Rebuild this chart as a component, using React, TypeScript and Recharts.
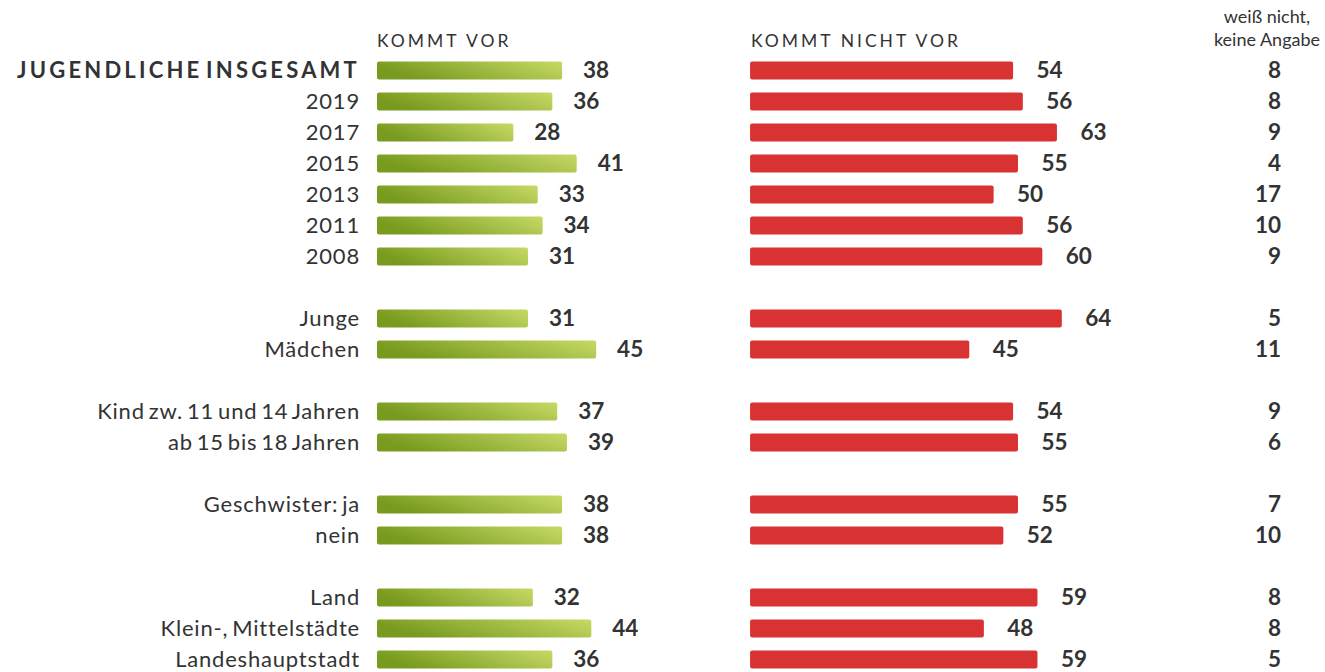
import React from "react";
import { BarChart, Bar, XAxis, YAxis, LabelList } from "recharts";

// one entry per row slot; empty strings are the spacer rows between groups
const categories = [
  "JUGENDLICHE INSGESAMT", "2019", "2017", "2015", "2013", "2011", "2008", "",
  "Junge", "Mädchen", "",
  "Kind zw. 11 und 14 Jahren", "ab 15 bis 18 Jahren", "",
  "Geschwister: ja", "nein", "",
  "Land", "Klein-, Mittelstädte", "Landeshauptstadt",
];
const kommtVor = [38, 36, 28, 41, 33, 34, 31, null, 31, 45, null, 37, 39, null, 38, 38, null, 32, 44, 36];
const kommtNichtVor = [54, 56, 63, 55, 50, 56, 60, null, 64, 45, null, 54, 55, null, 55, 52, null, 59, 48, 59];
const weissNicht = [8, 8, 9, 4, 17, 10, 9, null, 5, 11, null, 9, 6, null, 7, 10, null, 8, 8, 5];

const rows = categories.map((label, i) => ({
  key: `r${i}`,
  label,
  vor: kommtVor[i],
  nicht: kommtNichtVor[i],
  wn: weissNicht[i],
}));
const rowByKey: Record<string, (typeof rows)[number]> = Object.fromEntries(rows.map((r) => [r.key, r]));

const TEXT = "#333333";
const FONT = "Lato, 'Open Sans', sans-serif";
// the red block starts this many units to the right of the green baseline
const RED_OFFSET = 76.6;
const SPAN = 170;

const LeftTick = (props: any) => {
  const row = rowByKey[props.payload?.value];
  if (!row || !row.label) return null;
  const bold = row.key === "r0";
  return (
    <text
      x={props.x}
      y={props.y}
      dy="0.35em"
      textAnchor="end"
      fontFamily={FONT}
      fontSize={22}
      fontWeight={bold ? 700 : 400}
      letterSpacing={bold ? 3.2 : 0.8}
      wordSpacing={bold ? -5 : -2.5}
      fill={TEXT}
    >
      {row.label}
    </text>
  );
};

const RightTick = (props: any) => {
  const row = rowByKey[props.payload?.value];
  if (!row || row.wn == null) return null;
  return (
    <text x={props.x} y={props.y} dy="0.35em" textAnchor="end" fontFamily={FONT} fontSize={22.5} fontWeight={700} fill={TEXT}>
      {row.wn}
    </text>
  );
};

const ValueLabel = (props: any) => {
  const { x, y, width, height, value, gap = 34 } = props;
  if (value == null) return null;
  return (
    <text
      x={x + width + gap}
      y={y + height / 2}
      dy="0.35em"
      textAnchor="middle"
      fontFamily={FONT}
      fontSize={22.5}
      fontWeight={700}
      fill={TEXT}
    >
      {value}
    </text>
  );
};

export default function App() {
  return (
    <div style={{ position: "absolute", left: 0, top: 0, width: 1325, height: 672, overflow: "hidden", background: "#fff" }}>
      <svg width={1325} height={60} style={{ position: "absolute", left: 0, top: 0 }}>
        <text x={377} y={47} fontFamily={FONT} fontSize={17.5} letterSpacing={3} fill={TEXT}>KOMMT VOR</text>
        <text x={751} y={47} fontFamily={FONT} fontSize={17.5} letterSpacing={3} fill={TEXT}>KOMMT NICHT VOR</text>
        <text x={1267} y={23} textAnchor="middle" fontFamily={FONT} fontSize={18} fill={TEXT}>weiß nicht,</text>
        <text x={1267} y={46} textAnchor="middle" fontFamily={FONT} fontSize={18} fill={TEXT}>keine Angabe</text>
      </svg>
      <div style={{ position: "absolute", left: 0, top: 0 }}>
        <BarChart
          width={1325}
          height={680}
          data={rows}
          layout="vertical"
          margin={{ top: 54.5, right: 0, bottom: 5.5, left: 0 }}
        >
          <defs>
            <linearGradient id="greenGrad" x1="0" y1="0.3" x2="1" y2="0">
              <stop offset="0%" stopColor="#789a1e" />
              <stop offset="100%" stopColor="#c6da66" />
            </linearGradient>
          </defs>
          <XAxis xAxisId="g" type="number" domain={[0, SPAN]} hide />
          <XAxis xAxisId="r" type="number" domain={[-RED_OFFSET, SPAN - RED_OFFSET]} hide allowDataOverflow />
          <YAxis
            yAxisId="left"
            type="category"
            dataKey="key"
            width={377}
            axisLine={false}
            tickLine={false}
            tickSize={0}
            tickMargin={17}
            interval={0}
            tick={<LeftTick />}
          />
          <YAxis
            yAxisId="right"
            orientation="right"
            type="category"
            dataKey="key"
            width={120}
            axisLine={false}
            tickLine={false}
            tickSize={0}
            tickMargin={76}
            interval={0}
            tick={<RightTick />}
          />
          <Bar xAxisId="g" yAxisId="left" dataKey="vor" fill="url(#greenGrad)" barSize={18} radius={2} isAnimationActive={false}>
            <LabelList dataKey="vor" content={<ValueLabel gap={34} />} />
          </Bar>
          <Bar xAxisId="r" yAxisId="right" dataKey="nicht" fill="#d83232" barSize={18} radius={2} isAnimationActive={false}>
            <LabelList dataKey="nicht" content={<ValueLabel gap={36.5} />} />
          </Bar>
        </BarChart>
      </div>
    </div>
  );
}
